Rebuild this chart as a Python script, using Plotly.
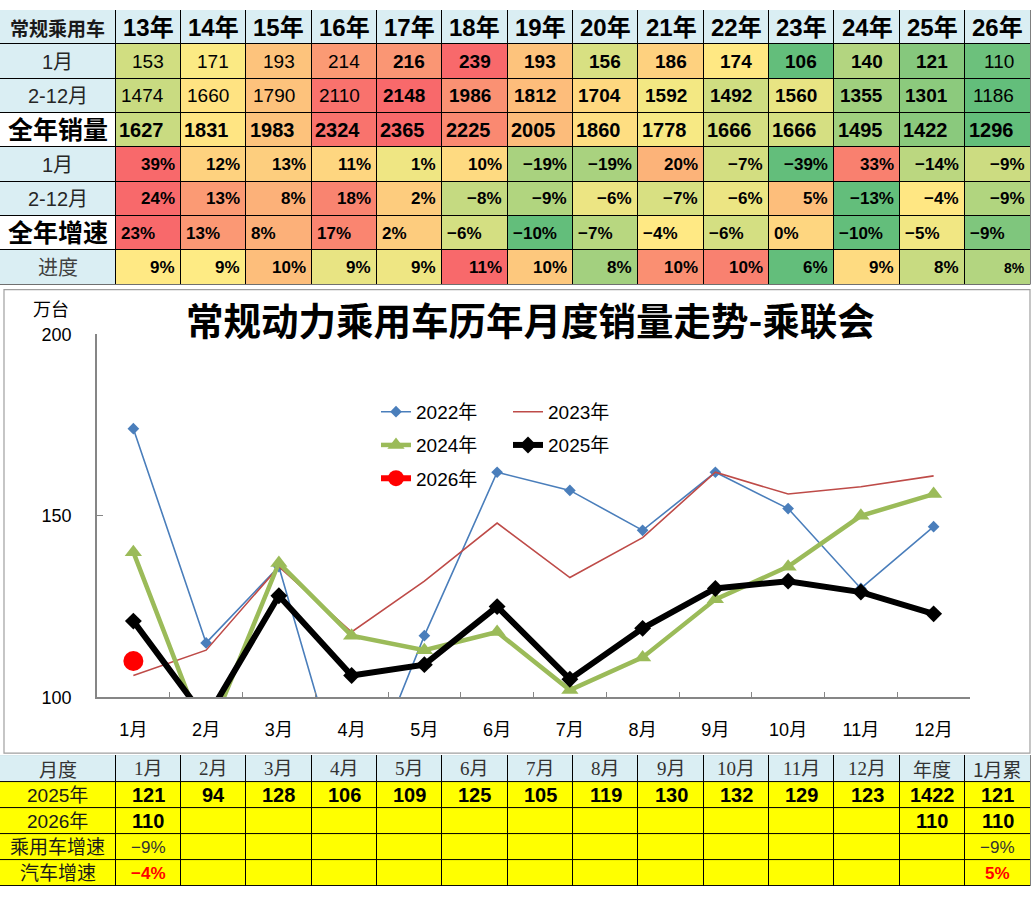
import statistics
import plotly.graph_objects as go

W, H = 1034, 898

# ---------------- top table data ----------------
years = ["13年", "14年", "15年", "16年", "17年", "18年", "19年", "20年", "21年", "22年", "23年", "24年", "25年", "26年"]
jan_sales = [153, 171, 193, 214, 216, 239, 193, 156, 186, 174, 106, 140, 121, 110]
febdec_sales = [1474, 1660, 1790, 2110, 2148, 1986, 1812, 1704, 1592, 1492, 1560, 1355, 1301, 1186]
total_sales = [1627, 1831, 1983, 2324, 2365, 2225, 2005, 1860, 1778, 1666, 1666, 1495, 1422, 1296]
jan_growth = [39, 12, 13, 11, 1, 10, -19, -19, 20, -7, -39, 33, -14, -9]
febdec_growth = [24, 13, 8, 18, 2, -8, -9, -6, -7, -6, 5, -13, -4, -9]
total_growth = [23, 13, 8, 17, 2, -6, -10, -7, -4, -6, 0, -10, -5, -9]
progress = [9.35, 9.3, 9.8, 8.9, 9.0, 10.7, 9.7, 7.6, 10.3, 10.45, 6.4, 9.49, 8.3, 7.9]
top_corner = "常规乘用车"
top_row_labels = ["1月", "2-12月", "全年销量", "1月", "2-12月", "全年增速", "进度"]

# ---------------- chart data ----------------
months = ["1月", "2月", "3月", "4月", "5月", "6月", "7月", "8月", "9月", "10月", "11月", "12月"]
sales_2022 = [174, 115, 136, 67, 117, 162, 157, 146, 162, 152, 130, 147]
sales_2023 = [106, 113, 136, 118, 132, 148, 133, 144, 162, 156, 158, 161]
sales_2024 = [140, 88, 137, 117, 113, 118, 102, 111, 127, 136, 150, 156]
sales_2025 = [121, 94, 128, 106, 109, 125, 105, 119, 130, 132, 129, 123]
sales_2026 = [110]
series_names = ["2022年", "2023年", "2024年", "2025年", "2026年"]
chart_title = "常规动力乘用车历年月度销量走势-乘联会"
y_unit = "万台"
y_ticks = [100, 150, 200]

# ---------------- bottom table data ----------------
bottom_corner = "月度"
bottom_extra_cols = ["年度", "1月累"]
bottom_row_labels = ["2025年", "2026年", "乘用车增速", "汽车增速"]
total_2025 = 1422
jan_cum_2025 = 121
total_2026 = 110
jan_cum_2026 = 110
pv_growth_jan = -9
pv_growth_cum = -9
auto_growth_jan = -4
auto_growth_cum = 5

# ---------------- styling helpers ----------------
NUM = "Liberation Sans, Arial, sans-serif"
CJK = "Noto Sans CJK SC, sans-serif"
MIX = "Liberation Sans, Noto Sans CJK SC, sans-serif"
SERIF = "Liberation Serif, Noto Sans CJK SC, serif"
LIGHT_BLUE = "#DAEEF3"

Z_BLUE, Z_WHITE, Z_YELLOW = 0.0, 0.03, 0.06
colorscale = [
    [0.0, LIGHT_BLUE], [0.02, LIGHT_BLUE],
    [0.02, "#FFFFFF"], [0.045, "#FFFFFF"],
    [0.045, "#FFFF00"], [0.08, "#FFFF00"],
    [0.1, "#63BE7B"], [0.55, "#FFEB84"], [1.0, "#F8696B"],
]


def heat_levels(vals):
    lo, hi, med = min(vals), max(vals), statistics.median(vals)
    out = []
    for v in vals:
        if v <= med:
            t = 0.0 if med == lo else 0.5 * (v - lo) / (med - lo)
        else:
            t = 0.5 + 0.5 * (v - med) / (hi - med)
        out.append(0.1 + 0.9 * t)
    return out


def pct(v):
    v = int(round(v))
    return ("\u2212" if v < 0 else "") + f"{abs(v)}%"


annotations = []


def add_text(text, x, y, xref, yref, size, family, color="black", xanchor="center", bold=False):
    annotations.append(dict(
        text=f"<b>{text}</b>" if bold else text, x=x, y=y, xref=xref, yref=yref,
        xanchor=xanchor, yanchor="middle", showarrow=False,
        font=dict(size=size, family=family, color=color)))


# ---------------- table geometry (pixels) ----------------
FIRST_W = 115.5
TABLE_RIGHT = 1030.5
ncol = len(years)
col_w = (TABLE_RIGHT - FIRST_W) / ncol
col_edges = [0, FIRST_W] + [FIRST_W + col_w * (i + 1) for i in range(ncol)]

TOP_H = 281.0
top_rows = 8
top_row_edges = [TOP_H / top_rows * i for i in range(top_rows + 1)]

BOT_TOP, BOT_BOTTOM = 762.0, 896.0
bot_row_edges = [0, 28, 54.5, 81, 107.5, 134]

fig = go.Figure()

# ---------------- top table ----------------
z_top = [
    [Z_BLUE] * (ncol + 1),
    [Z_BLUE] + heat_levels(jan_sales),
    [Z_BLUE] + heat_levels(febdec_sales),
    [Z_WHITE] + heat_levels(total_sales),
    [Z_BLUE] + heat_levels(jan_growth),
    [Z_BLUE] + heat_levels(febdec_growth),
    [Z_WHITE] + heat_levels(total_growth),
    [Z_BLUE] + heat_levels(progress),
]
fig.add_trace(go.Heatmap(x=col_edges, y=top_row_edges, z=z_top, colorscale=colorscale,
                         zmin=0, zmax=1, showscale=False, xgap=1, ygap=1,
                         hoverinfo="skip", xaxis="x2", yaxis="y2", showlegend=False))


def rc(edges, r):
    return (edges[r] + edges[r + 1]) / 2


# header row
add_text(top_corner, rc(col_edges, 0), rc(top_row_edges, 0), "x2", "y2", 19, CJK, "#1a1a1a", bold=True)
for i, yl in enumerate(years):
    add_text(yl, rc(col_edges, i + 1), rc(top_row_edges, 0), "x2", "y2", 24, MIX, "black", bold=True)

# row labels
label_style = [
    (20, False, "#262626"), (20, False, "#262626"), (25, True, "black"),
    (20, False, "#262626"), (20, False, "#262626"), (25, True, "black"), (20, False, "#404040"),
]
for r, lab in enumerate(top_row_labels):
    size, b, colr = label_style[r]
    add_text(lab, rc(col_edges, 0), rc(top_row_edges, r + 1), "x2", "y2", size,
             MIX, colr, bold=b)

# sales rows
for r, vals in ((1, jan_sales), (2, febdec_sales)):
    for i, v in enumerate(vals):
        b = 4 <= i <= 12
        add_text(str(v), col_edges[i + 2] - 15, rc(top_row_edges, r), "x2", "y2", 19, NUM,
                 "black", xanchor="right", bold=b)
for i, v in enumerate(total_sales):
    add_text(str(v), col_edges[i + 2] - 15, rc(top_row_edges, 3), "x2", "y2", 20, NUM,
             "black", xanchor="right", bold=True)

# growth rows
for r, vals in ((4, jan_growth), (5, febdec_growth)):
    for i, v in enumerate(vals):
        add_text(pct(v), col_edges[i + 2] - 4, rc(top_row_edges, r), "x2", "y2", 17, NUM,
                 "black", xanchor="right", bold=True)
for i, v in enumerate(total_growth):
    add_text(pct(v), col_edges[i + 1] + 3, rc(top_row_edges, 6), "x2", "y2", 17, NUM,
             "black", xanchor="left", bold=True)
for i, v in enumerate(progress):
    add_text(pct(v), col_edges[i + 2] - 4, rc(top_row_edges, 7), "x2", "y2",
             14 if i == ncol - 1 else 17, NUM, "black", xanchor="right", bold=True)

# ---------------- bottom table ----------------
nb = len(months) + len(bottom_extra_cols) + 1
z_bot = [[Z_BLUE] * nb] + [[Z_YELLOW] * nb for _ in bottom_row_labels]
fig.add_trace(go.Heatmap(x=col_edges, y=bot_row_edges, z=z_bot, colorscale=colorscale,
                         zmin=0, zmax=1, showscale=False, xgap=1, ygap=1,
                         hoverinfo="skip", xaxis="x3", yaxis="y3", showlegend=False))

header_bottom = [bottom_corner] + months + bottom_extra_cols
for c, t in enumerate(header_bottom):
    fam = CJK if c == 0 or c >= 13 else SERIF
    add_text(t, rc(col_edges, c), rc(bot_row_edges, 0), "x3", "y3", 19, fam, "#333333")
for r, lab in enumerate(bottom_row_labels):
    add_text(lab, rc(col_edges, 0), rc(bot_row_edges, r + 1), "x3", "y3", 19, MIX, "#1a1a1a")

row1 = sales_2025 + [total_2025, jan_cum_2025]
for c, v in enumerate(row1):
    add_text(str(v), rc(col_edges, c + 1), rc(bot_row_edges, 1), "x3", "y3", 20, NUM, "black", bold=True)
row2 = {0: sales_2026[0], 12: total_2026, 13: jan_cum_2026}
for c, v in row2.items():
    add_text(str(v), rc(col_edges, c + 1), rc(bot_row_edges, 2), "x3", "y3", 20, NUM, "black", bold=True)
for c, v in ((0, pv_growth_jan), (13, pv_growth_cum)):
    add_text(pct(v), rc(col_edges, c + 1), rc(bot_row_edges, 3), "x3", "y3", 17, NUM, "#333333")
for c, v in ((0, auto_growth_jan), (13, auto_growth_cum)):
    add_text(pct(v), rc(col_edges, c + 1), rc(bot_row_edges, 4), "x3", "y3", 17, NUM, "#FF0000", bold=True)

# ---------------- chart ----------------
fig.add_trace(go.Scatter(x=months, y=sales_2022, name=series_names[0], mode="lines+markers",
                         line=dict(color="#4A7EBB", width=1.6),
                         marker=dict(symbol="diamond", size=9, color="#4A7EBB"), legend="legend"))
fig.add_trace(go.Scatter(x=months, y=sales_2023, name=series_names[1], mode="lines",
                         line=dict(color="#BE4B48", width=1.6), legend="legend2"))
fig.add_trace(go.Scatter(x=months, y=sales_2024, name=series_names[2], mode="lines+markers",
                         line=dict(color="#9BBB59", width=4.5),
                         marker=dict(symbol="triangle-up", size=15, color="#9BBB59"), legend="legend3"))
fig.add_trace(go.Scatter(x=months, y=sales_2025, name=series_names[3], mode="lines+markers",
                         line=dict(color="black", width=6),
                         marker=dict(symbol="diamond", size=13, color="black"), legend="legend4"))
fig.add_trace(go.Scatter(x=months[:len(sales_2026)], y=sales_2026, name=series_names[4],
                         mode="lines+markers", line=dict(color="#FF0000", width=6),
                         marker=dict(symbol="circle", size=20, color="#FF0000"), legend="legend5"))

PLOT_L, PLOT_R, PLOT_T, PLOT_B = 97, 970, 331.7, 703

add_text(chart_title, 530 / W, 1 - 316 / H, "paper", "paper", 37.5, CJK, "black", bold=True)
add_text(y_unit, 51 / W, 1 - 305 / H, "paper", "paper", 18, CJK, "black")


def leg(xpx, ypx):
    return dict(x=xpx / W, y=1 - ypx / H, xanchor="left", yanchor="middle", orientation="h",
                bgcolor="rgba(0,0,0,0)", borderwidth=0, itemwidth=30,
                font=dict(family=MIX, size=19, color="black"))


fig.update_layout(
    width=W, height=H, margin=dict(l=0, r=0, t=0, b=0),
    paper_bgcolor="white", plot_bgcolor="white", hovermode=False, showlegend=True,
    xaxis=dict(domain=[PLOT_L / W, PLOT_R / W], type="category", range=[-0.5, len(months) - 0.5],
               showline=True, linecolor="#868686", linewidth=1.5, ticks="inside",
               tickson="boundaries", ticklen=6, tickcolor="#868686", showgrid=False,
               tickfont=dict(family=MIX, size=18, color="black"), ticklabelstandoff=15,
               anchor="y", fixedrange=True),
    yaxis=dict(domain=[1 - PLOT_B / H, 1 - PLOT_T / H], range=[100, 200], tickvals=y_ticks,
               showline=True, linecolor="#868686", linewidth=1.5, ticks="inside", ticklen=6,
               tickcolor="#868686", showgrid=False, zeroline=False,
               tickfont=dict(family=NUM, size=18, color="black"), ticklabelstandoff=20,
               anchor="x", fixedrange=True),
    xaxis2=dict(domain=[0, 1], range=[0, W], type="linear", visible=False, anchor="y2", fixedrange=True),
    yaxis2=dict(domain=[1 - TOP_H / H, 1], range=[TOP_H, 0], type="linear", visible=False,
                anchor="x2", fixedrange=True),
    xaxis3=dict(domain=[0, 1], range=[0, W], type="linear", visible=False, anchor="y3", fixedrange=True),
    yaxis3=dict(domain=[1 - BOT_BOTTOM / H, 1 - BOT_TOP / H], range=[bot_row_edges[-1], 0],
                type="linear", visible=False, anchor="x3", fixedrange=True),
    legend=leg(376, 411), legend2=leg(508, 411), legend3=leg(376, 445),
    legend4=leg(508, 445), legend5=leg(376, 479),
    annotations=annotations,
    shapes=[
        dict(type="rect", xref="x2", yref="y2", x0=0, x1=TABLE_RIGHT, y0=0, y1=TOP_H,
             fillcolor="black", line=dict(width=0), layer="below"),
        dict(type="rect", xref="x3", yref="y3", x0=0, x1=TABLE_RIGHT, y0=0, y1=bot_row_edges[-1],
             fillcolor="black", line=dict(width=0), layer="below"),
        dict(type="rect", xref="paper", yref="paper", x0=4 / W, x1=1030 / W,
             y0=1 - 760 / H, y1=1 - 286 / H, line=dict(color="#A0A0A0", width=1.2),
             fillcolor="rgba(0,0,0,0)", layer="below"),
    ],
)

fig.write_html("out.html")
